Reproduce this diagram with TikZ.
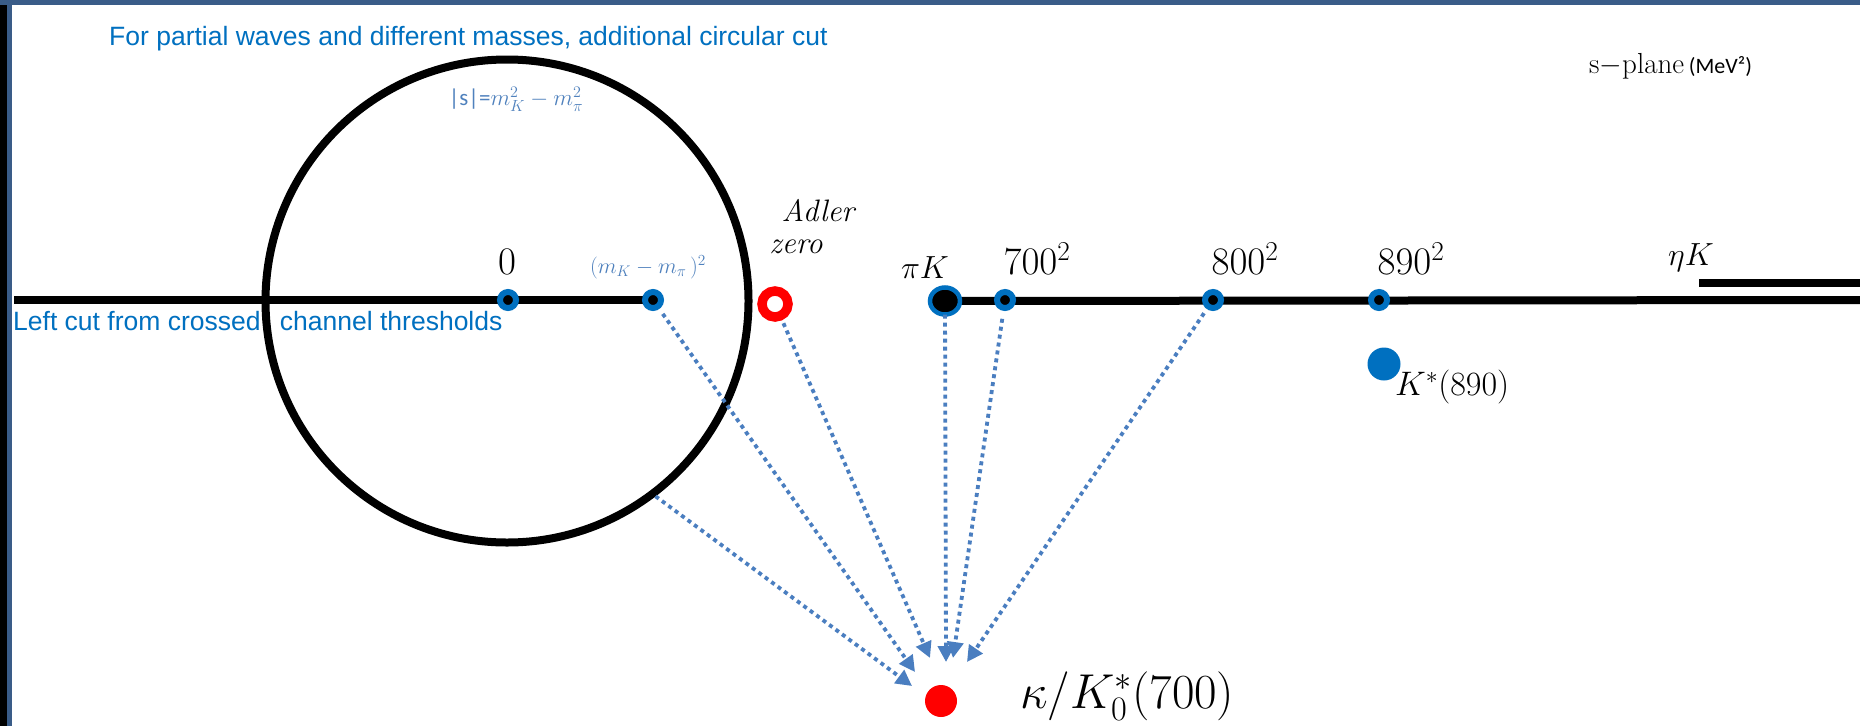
\RequirePackage{fix-cm}
\documentclass[tikz,border=0pt]{standalone}
\usepackage{fontspec}
\newfontfamily\arialf{Liberation Sans}
\newfontfamily\calibf{Carlito}
\usetikzlibrary{arrows.meta,shapes.geometric,backgrounds}
\definecolor{cutblue}{HTML}{0070C0}
\definecolor{labblue}{HTML}{4F81BD}
\definecolor{arrowblue}{HTML}{4A7EC0}
\definecolor{framedark}{HTML}{3A5C88}
\tikzset{
  axisline/.style={line width=8pt, black},
  tickpt/.style={circle, fill=black, draw=cutblue, line width=6pt, minimum size=16pt, inner sep=0pt, outer sep=0pt},
  thrpt/.style={ellipse, fill=black, draw=cutblue, line width=4.5pt, minimum width=30pt, minimum height=27pt, inner sep=0pt, outer sep=0pt},
  zeropt/.style={circle, fill=white, draw=red, line width=9.5pt, minimum size=26pt, inner sep=0pt, outer sep=0pt},
  polept/.style={circle, inner sep=0pt, outer sep=0pt},
  numlab/.style={font=\fontsize{39}{44}\selectfont, inner sep=0pt},
  chlab/.style={font=\fontsize{32}{38}\selectfont, inner sep=0pt},
  bluetext/.style={font=\arialf\fontsize{26.5}{30}\selectfont, text=cutblue, inner sep=0pt, anchor=west},
  dotarrow/.style={arrowblue, line width=3.8pt, dash pattern=on 4pt off 4pt,
                   -{Triangle[length=16pt,width=16pt]}},
}
\begin{document}
\begin{tikzpicture}[x=1pt,y=-1pt]
\useasboundingbox (0,0) rectangle (1860,726);
\begin{scope}[on background layer]
  \fill[white] (0,0) rectangle (1860,726);
  % slide frame
  \fill[black] (0,0) rectangle (7,726);
  \fill[framedark] (7,0) rectangle (12,726);
  \fill[framedark] (0,0) rectangle (1860,5);
\end{scope}

% texts in blue
\node[bluetext] (title) at (109,39) {For partial waves and different masses, additional circular cut};
\node[bluetext] (leftcut) at (13,321) {Left cut from crossed\hspace{12pt} channel thresholds};

% points on the real axis
\node[tickpt] (p0) at (508,300) {};
\node[tickpt] (mk) at (653,300) {};
\node[thrpt] (piK) at (945,301) {};
\node[tickpt] (p700) at (1005,300) {};
\node[tickpt] (p800) at (1213,300) {};
\node[tickpt] (p890) at (1379,300) {};
\node[zeropt] (adler) at (775,304) {};
\node[polept, fill=cutblue, minimum size=33pt] (kstar) at (1384,364) {};
\node[polept, fill=red, minimum size=32pt] (kappa) at (941,701) {};

% cut end points
\coordinate (lstart) at (14,300);
\coordinate (rend) at (1860,300);
\coordinate (etastart) at (1699,283);
\coordinate (etaend) at (1860,283);

\begin{scope}[on background layer]
  \draw[axisline] (lstart) -- (p0.center) -- (mk.center);
  \draw[axisline] (piK.center) -- (rend);
\end{scope}
\draw[axisline] (etastart) -- (etaend);

% circular cut
\node[circle, draw=black, line width=8pt, minimum size=483pt, inner sep=0pt, outer sep=0pt] (circ) at (507,301) {};

% labels
\node[numlab] (l0) at (507,262) {$0$};
\node[font=\fontsize{22}{26}\selectfont, text=labblue, inner sep=0pt] (lmk) at (648,267) {$(m_K-m_\pi\,)^2$};
\node[font=\fontsize{23}{27}\selectfont, text=labblue, inner sep=0pt] (lrad) at (516,99) {{\calibf |s|=}$m_K^2-m_\pi^2$};
\node[font=\fontsize{31}{36}\selectfont\itshape, inner sep=0pt] (ladler) at (818,211) {Adler};
\node[font=\fontsize{31}{36}\selectfont\itshape, inner sep=0pt] (lzero) at (796,247) {zero};
\node[chlab] (lpiK) at (925,268) {$\pi K$};
\node[numlab] (l700) at (1037,259) {$700^2$};
\node[numlab] (l800) at (1245,259) {$800^2$};
\node[numlab] (l890) at (1411,259) {$890^2$};
\node[chlab] (letaK) at (1691,258) {$\eta K$};
\node[font=\fontsize{34}{40}\selectfont, inner sep=0pt, anchor=west] (lkstar) at (1395,387) {$K^*(890)$};
\node[font=\fontsize{49}{56}\selectfont, inner sep=0pt, anchor=west] (lkappa) at (1020,696) {$\kappa/K_0^*(700)$};
\node[font=\fontsize{29}{34}\selectfont, inner sep=0pt, anchor=west] (lplane) at (1589,66) {s$-$plane\,{\calibf\fontsize{22}{26}\selectfont (MeV²)}};

% arrow tips
\coordinate (t1) at (912,686);
\coordinate (t2) at (915,672);
\coordinate (t3) at (930,658);
\coordinate (t4) at (946,662);
\coordinate (t5) at (953,658);
\coordinate (t6) at (967,662);

\draw[dotarrow, shorten <=4pt] (circ.-53.4) -- (t1);
\draw[dotarrow, shorten <=9pt] (mk) -- (t2);
\draw[dotarrow, shorten <=8pt] (adler) -- (t3);
\draw[dotarrow] (piK) -- (t4);
\draw[dotarrow, shorten <=11pt] (p700) -- (t5);
\draw[dotarrow, shorten <=8pt] (p800) -- (t6);
\end{tikzpicture}
\end{document}
